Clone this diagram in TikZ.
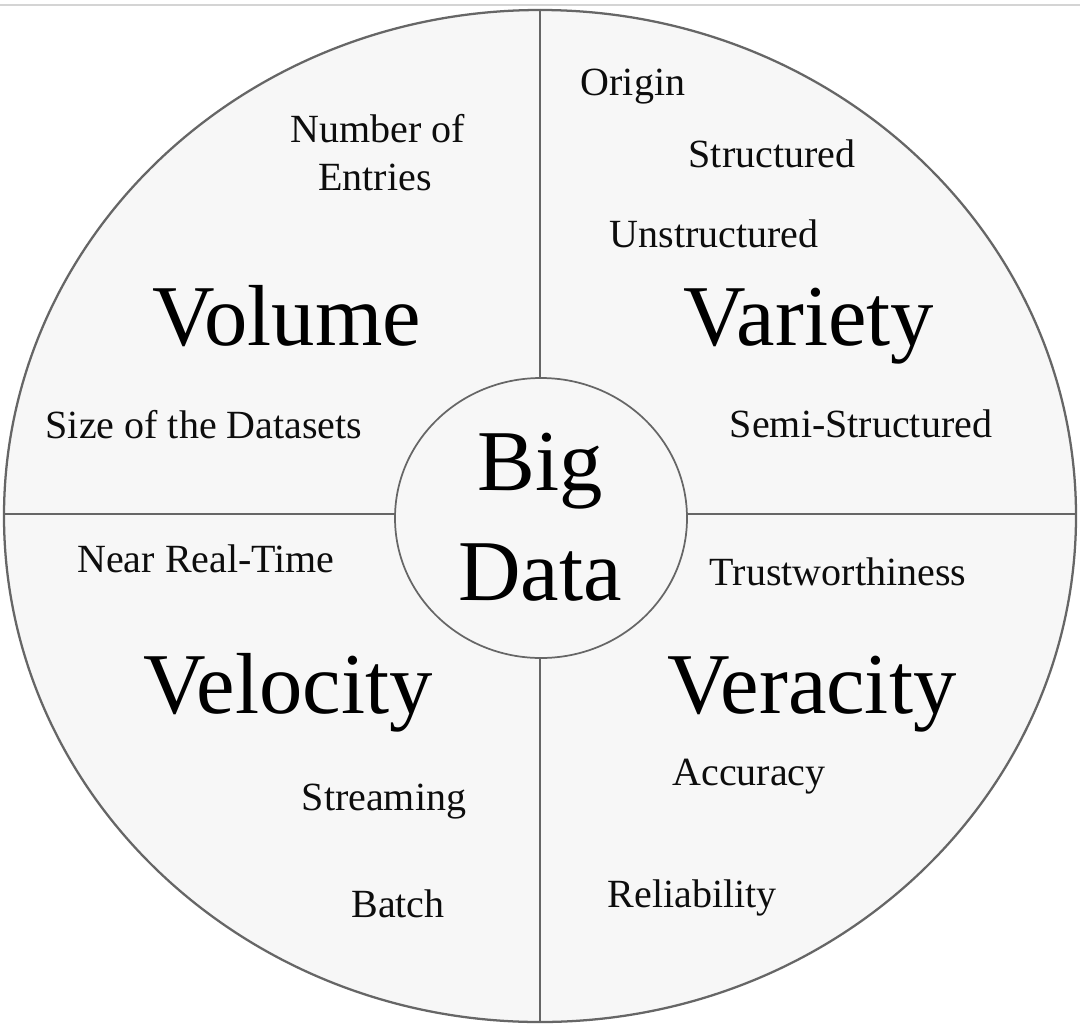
\documentclass[tikz,border=0pt]{standalone}
\usepackage{fontspec}
\setmainfont{Liberation Serif}
\usetikzlibrary{shapes.geometric}
\definecolor{panel}{HTML}{F7F7F7}
\definecolor{edge}{HTML}{666666}
\definecolor{topline}{HTML}{D4D4D4}
\tikzset{
  small/.style={font=\fontsize{30}{36}\selectfont, text=black!95, anchor=base, inner sep=0pt},
  big/.style={font=\fontsize{65}{78}\selectfont, text=black, anchor=base, inner sep=0pt},
  ring/.style={draw=edge, line width=1.7pt, fill=panel},
  divider/.style={draw=edge, line width=1.5pt}
}
\begin{document}
\begin{tikzpicture}[x=0.75pt,y=-0.75pt]
\useasboundingbox (0,0) rectangle (1080,1035);
\fill[white] (0,0) rectangle (1080,1035);
\coordinate (tl) at (0,5);
\coordinate (tr) at (1080,5);
\draw[topline, line width=1pt] (tl) -- (tr);
\node[ring, ellipse, minimum width=1072*0.75pt, minimum height=1012*0.75pt, inner sep=0pt] (outer) at (540,516) {};
\draw[divider] (outer.north) -- (outer.south);
\coordinate (hl) at (4,514);
\coordinate (hr) at (1076,514);
\draw[divider] (hl) -- (hr);
\node[draw=edge, line width=1.3pt, fill=panel, ellipse, minimum width=292*0.75pt, minimum height=280*0.75pt, inner sep=0pt] (core) at (541,518) {};
\node[big] (big) at (540,490) {Big};
\node[big] (data) at (540,600) {Data};
% Volume
\node[small] (num) at (378,142) {Number of};
\node[small] (ent) at (375,190) {Entries};
\node[big] (volume) at (287,345) {Volume};
\node[small] (size) at (204,438) {Size of the Datasets};
% Variety
\node[small] (origin) at (633,95) {Origin};
\node[small] (struct) at (772,167) {Structured};
\node[small] (unstruct) at (714,247) {Unstructured};
\node[big] (variety) at (809,345) {Variety};
\node[small] (semi) at (861,437) {Semi-Structured};
% Velocity
\node[small] (near) at (206,572) {Near Real-Time};
\node[big] (velocity) at (288,713) {Velocity};
\node[small] (stream) at (384,810) {Streaming};
\node[small] (batch) at (398,917) {Batch};
% Veracity
\node[small] (trust) at (838,585) {Trustworthiness};
\node[big] (veracity) at (812,713) {Veracity};
\node[small] (acc) at (749,785) {Accuracy};
\node[small] (rel) at (692,907) {Reliability};
\end{tikzpicture}
\end{document}
